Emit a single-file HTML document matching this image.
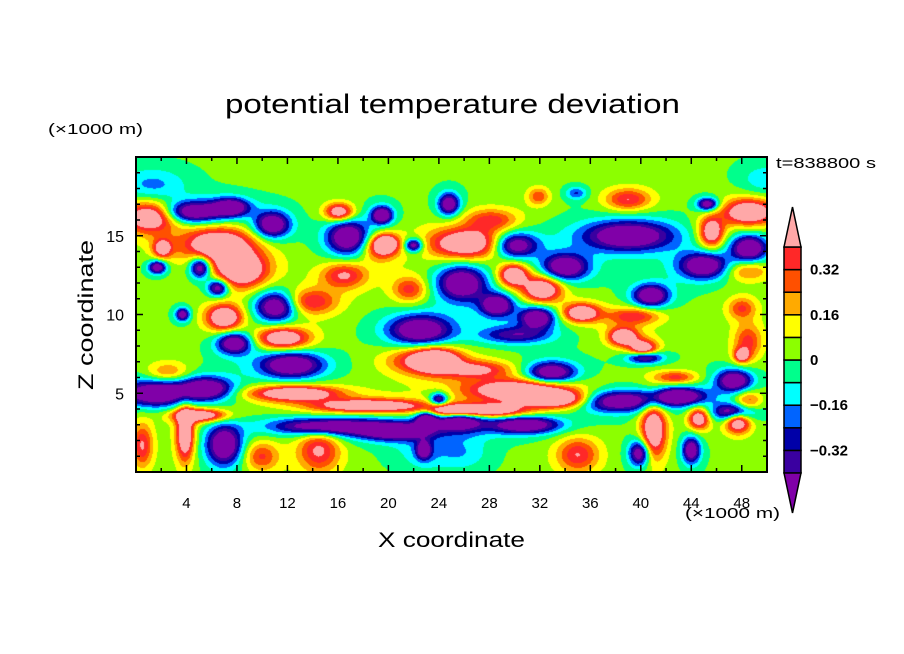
<!DOCTYPE html>
<html><head><meta charset="utf-8"><style>
html,body{margin:0;padding:0;background:#fff;}
#wrap{position:relative;width:904px;height:654px;overflow:hidden;font-family:"Liberation Sans",sans-serif;}
#field{position:absolute;left:136px;top:157px;}
svg{position:absolute;left:0;top:0;}
</style></head><body>
<div id="wrap">
<canvas id="field" width="631" height="315"></canvas>
<svg id="ov" width="904" height="654">
<text x="225" y="113" font-size="27" textLength="455" lengthAdjust="spacingAndGlyphs">potential temperature deviation</text>
<text x="48" y="134" font-size="15" textLength="95" lengthAdjust="spacingAndGlyphs">(×1000 m)</text>
<text x="685" y="518" font-size="15" textLength="95" lengthAdjust="spacingAndGlyphs">(×1000 m)</text>
<text x="776" y="168" font-size="15" textLength="100" lengthAdjust="spacingAndGlyphs">t=838800 s</text>
<text x="378" y="547" font-size="21" textLength="147" lengthAdjust="spacingAndGlyphs">X coordinate</text>
<text transform="translate(93,390) rotate(-90)" font-size="21" textLength="150" lengthAdjust="spacingAndGlyphs">Z coordinate</text>
<g id="ticks"></g>
<g id="cbar"></g>
<rect x="136" y="157" width="631" height="315" fill="none" stroke="#000" stroke-width="2"/>
</svg>
</div>
<script>
// contour levels and colours
const levels=[-0.4,-0.32,-0.24,-0.16,-0.08,0,0.08,0.16,0.24,0.32,0.4];
const colors=["#8000a8","#3a00a0","#0000a8","#0064ff","#00ffff","#00ff8c","#8cff00","#ffff00","#ffaa00","#ff5000","#ff2828","#ffa8a8"];
const cbarLabels=["0.32","0.16","0","−0.16","−0.32"];
const cbarLabelVals=[0.32,0.16,0,-0.16,-0.32];
const xTickLabels=[4,8,12,16,20,24,28,32,36,40,44,48];
const yTickLabels=[5,10,15];
const baseValue=0.02;
// blobs (x in km, z in km, amplitude, radius x, radius z)
const blobX=[1.1,6.5,8.3,2.1,16.1,19.8,26.3,7.0,11.6,23.8,12.5,18.5,5.1,3.9,29.9,32.2,35.3,38.6,40.2,30.4,33.5,28,24.8,41,44.6,47.7,48.6,45.6,48,
 4.5,7.5,10.8,16.8,19.5,22,25.8,5.1,1.7,6.5,11.1,3.7,22.5,7.8,12.3,1.5,5.5,15,20.5,7,23,22.8,24.8,39,30,34,28.6,31.8,40.8,45,48.6,45.3,32.9,40.3,47.4,38,43,30.8,25.6,39.9,44,47.4,30,24,
 39,31.9,27,42.8,35,48.4,48,28.2,39.5,48.5,48.5,13.8,16.5,19.3,21.7,22.6,0.5,14.5,9.9,2.5,
 1.3,49.8,34.9,23,26];
const blobZ=[16.2,14.4,12.8,14.2,16.5,14.5,14.5,9.8,8.5,7.1,5.0,4.2,3.6,2.4,12.5,11.6,10.1,8.6,7.8,5.2,4.6,3.9,3.9,2.7,3.4,3.2,16.5,15.2,7.4,
 16.5,16.8,15.7,14.9,16.3,14.4,12,13,13,11.7,10.5,10,9,8.2,6.8,5,5.3,2.9,2.6,1.7,3.4,1.4,17,15,14.4,13,10.6,9.8,11.2,13.1,14.2,17,6.3,7.3,5.8,4.5,4.8,3,3.3,1.2,1.4,3.8,8.7,4.6,
 17.3,17.5,6.5,6,1.1,12.8,10.4,16,9.9,8.3,4.5,10.8,12.5,14.2,11.6,7.1,1.7,1.4,1,6.3,
 18.2,18.5,17.7,1.2,1.2];
const blobAmp=[0.6,0.6,0.6,0.5,0.55,0.55,0.6,0.6,0.6,0.6,0.6,0.6,0.6,0.6,0.6,0.6,0.6,0.6,0.6,0.6,0.6,0.6,0.6,0.6,0.55,0.6,0.6,0.55,0.5,
 -0.6,-0.6,-0.6,-0.6,-0.6,-0.55,-0.6,-0.6,-0.55,-0.55,-0.6,-0.5,-0.6,-0.6,-0.6,-0.6,-0.6,-0.6,-0.6,-0.6,-0.55,-0.5,-0.55,-0.6,-0.6,-0.6,-0.6,-0.6,-0.6,-0.6,-0.6,-0.55,-0.6,-0.6,-0.6,-0.6,-0.6,-0.6,-0.6,-0.55,-0.55,-0.6,-0.35,-0.5,
 0.36,0.27,0.36,0.32,0.35,0.28,0.28,0.3,0.35,0.3,0.3,0.38,0.38,0.3,0.33,0.35,0.36,0.38,0.3,0.25,
 -0.2,-0.15,-0.25,-0.12,-0.12];
const blobRx=[1.5,2,1.5,0.5,0.8,0.7,2.2,1,1.5,1.2,2.5,3,1.5,0.5,0.8,1.1,1,0.8,0.8,3,2,2,1.5,0.7,0.6,0.7,1.5,0.7,0.4,
 1.7,1,1,1.2,0.6,0.5,1.4,0.6,0.5,0.6,1.2,0.4,1.8,1,1.8,2,1.5,3,2,1,0.6,0.4,0.6,2.6,1.3,1.3,0.9,1,1,1.4,1,0.6,1.4,1,1,2.5,1.5,2,1.4,0.6,0.5,1.2,2,0.5,
 1.3,0.6,2,1.2,1.2,1.3,0.8,1.5,1.5,0.8,0.8,1.5,1.3,1,1,2,0.6,1.2,1,1.2,
 2,1.5,0.6,2,1.5];
const blobRz=[0.7,0.8,0.8,0.4,0.4,0.4,0.7,0.6,0.5,0.5,0.35,0.3,0.3,1.2,0.5,0.6,0.4,0.4,0.4,0.5,0.4,0.3,0.3,1.3,0.5,0.5,0.6,0.7,0.3,
 0.5,0.4,0.6,0.8,0.4,0.3,0.8,0.5,0.3,0.4,0.7,0.3,0.7,0.5,0.6,0.6,0.5,0.4,0.4,0.9,0.4,0.4,0.5,0.7,0.6,0.6,0.5,0.5,0.5,0.6,0.6,0.3,0.5,0.3,0.5,0.5,0.4,0.4,0.5,0.6,0.6,0.4,0.4,0.3,
 0.5,0.4,0.4,0.3,0.8,0.5,0.5,0.5,0.4,0.8,0.5,0.6,0.6,0.6,0.6,0.6,1,1,0.7,0.5,
 0.8,0.8,0.3,0.8,0.8];

const X0=136,Y0=157,W=631,H=315,XMAX=50,ZMAX=20;
function sx(x){return X0+x/XMAX*W;}
function sy(z){return Y0+H-z/ZMAX*H;}
function cy(v){return 360-v/0.08*22.6;}
function hexToRgb(h){return [parseInt(h.substr(1,2),16),parseInt(h.substr(3,2),16),parseInt(h.substr(5,2),16)];}
const rgb=colors.map(hexToRgb);
function levelIndex(v){let i=0;while(i<levels.length&&v>=levels[i])i++;return i;}

// field
(function(){
 const ctx=document.getElementById('field').getContext('2d');
 const img=ctx.createImageData(W,H);
 const S=1.3;
 for(let py=0;py<H;py++){
  const z=(H-py-0.5)/H*ZMAX;
  for(let px=0;px<W;px++){
   const x=(px+0.5)/W*XMAX;
   let v=baseValue;
   for(let k=0;k<blobX.length;k++){
    const dx=(x-blobX[k])/(blobRx[k]*S),dz=(z-blobZ[k])/(blobRz[k]*S);
    const d=dx*dx+dz*dz;
    if(d<30)v+=blobAmp[k]*(0.9*Math.exp(-d)+0.2*Math.exp(-d/3));
   }
   const c=rgb[levelIndex(v)];
   const o=(py*W+px)*4;
   img.data[o]=c[0];img.data[o+1]=c[1];img.data[o+2]=c[2];img.data[o+3]=255;
  }
 }
 ctx.putImageData(img,0,0);
})();

const NS="http://www.w3.org/2000/svg";
function mk(tag,attrs,parent){const e=document.createElementNS(NS,tag);for(const k in attrs)e.setAttribute(k,attrs[k]);parent.appendChild(e);return e;}
const tg=document.getElementById('ticks');
for(let x=2;x<XMAX;x+=2){
 const major=x%4===0,L=major?7:4;
 const t1=mk('line',{x1:sx(x),x2:sx(x),y1:Y0+H,y2:Y0+H-L,stroke:'#000','stroke-width':1.5},tg);
 
 
 const t2=mk('line',{x1:sx(x),x2:sx(x),y1:Y0,y2:Y0+L,stroke:'#000','stroke-width':1.5},tg);
 
 
}
for(let z=1;z<ZMAX;z++){
 const major=z%5===0,L=major?7:4;
 const t1=mk('line',{x1:X0,x2:X0+L,y1:sy(z),y2:sy(z),stroke:'#000','stroke-width':1.5},tg);
 
 
 const t2=mk('line',{x1:X0+W,x2:X0+W-L,y1:sy(z),y2:sy(z),stroke:'#000','stroke-width':1.5},tg);
 
 
}
xTickLabels.forEach(v=>{
 const t=mk('text',{x:sx(v),y:508,'font-size':15,'text-anchor':'middle'},tg);
 t.textContent=String(v);
 
 
});
yTickLabels.forEach(v=>{
 const t=mk('text',{x:124,y:sy(v)+6,'font-size':16,'text-anchor':'end'},tg);
 t.textContent=String(v);
 
 
});
// colorbar
const cg=document.getElementById('cbar');
const CX=784,CW=17;
for(let i=1;i<colors.length-1;i++){
 const top=cy(levels[i]),bot=cy(levels[i-1]);
 const r=mk('rect',{x:CX,y:top,width:CW,height:bot-top,fill:colors[i],stroke:'#000','stroke-width':1.5},cg);
 
 
}
const topY=cy(levels[levels.length-1]),botY=cy(levels[0]);
const tri1=mk('polygon',{points:`${CX},${topY} ${CX+CW},${topY} ${CX+CW/2},${topY-40}`,fill:colors[colors.length-1],stroke:'#000','stroke-width':1.5},cg);


const tri2=mk('polygon',{points:`${CX},${botY} ${CX+CW},${botY} ${CX+CW/2},${botY+40}`,fill:colors[0],stroke:'#000','stroke-width':1.5},cg);


cbarLabels.forEach((s,i)=>{
 const t=mk('text',{x:810,y:cy(cbarLabelVals[i])+5,'font-size':15,'font-weight':'bold'},cg);
 t.textContent=s;
 
 
});
</script>
</body></html>
